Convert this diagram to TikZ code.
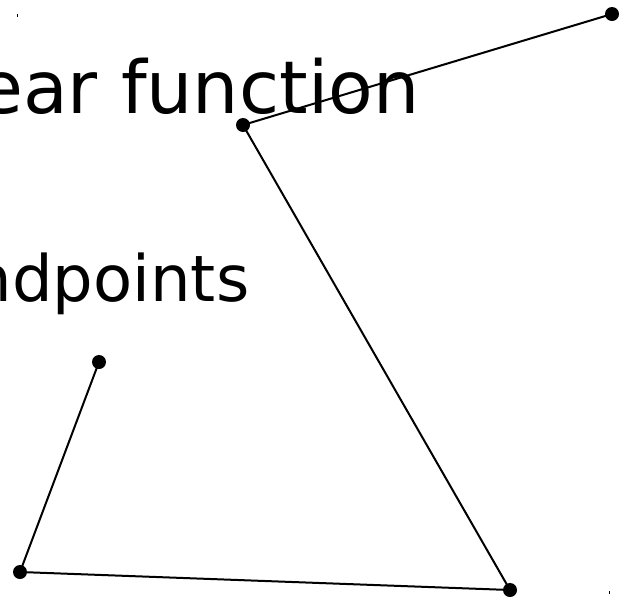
\documentclass[tikz,border=0pt]{standalone}
\usepackage{fontspec}
\setmainfont{DejaVu Sans}
\begin{document}
\begin{tikzpicture}[x=1pt,y=-1pt,
  dot/.style={circle,fill=black,inner sep=0pt,minimum size=14pt},
  seg/.style={line width=2pt},
  lbl/.style={inner sep=0pt}]
\path[use as bounding box] (0,0) rectangle (630,598);
\clip (0,0) rectangle (630,598);
\node[lbl,anchor=base east,font=\fontsize{73}{80}\selectfont] (t1) at (419.5,113) {ear function};
\node[lbl,anchor=base east,font=\fontsize{64}{70}\selectfont] (t2) at (249.5,301.5) {ndpoints};
\node[dot] (p1) at (612,14) {};
\node[dot] (p2) at (243,125) {};
\node[dot] (p3) at (510,590) {};
\node[dot] (p4) at (20,572) {};
\node[dot] (p5) at (99,362) {};
\draw[seg] (p1.center) -- (p2.center) -- (p3.center) -- (p4.center) -- (p5.center);
\fill (16.5,13.5) rectangle (17.5,16.5);
\fill (608.5,590.5) rectangle (609.5,593.5);
\end{tikzpicture}
\end{document}
